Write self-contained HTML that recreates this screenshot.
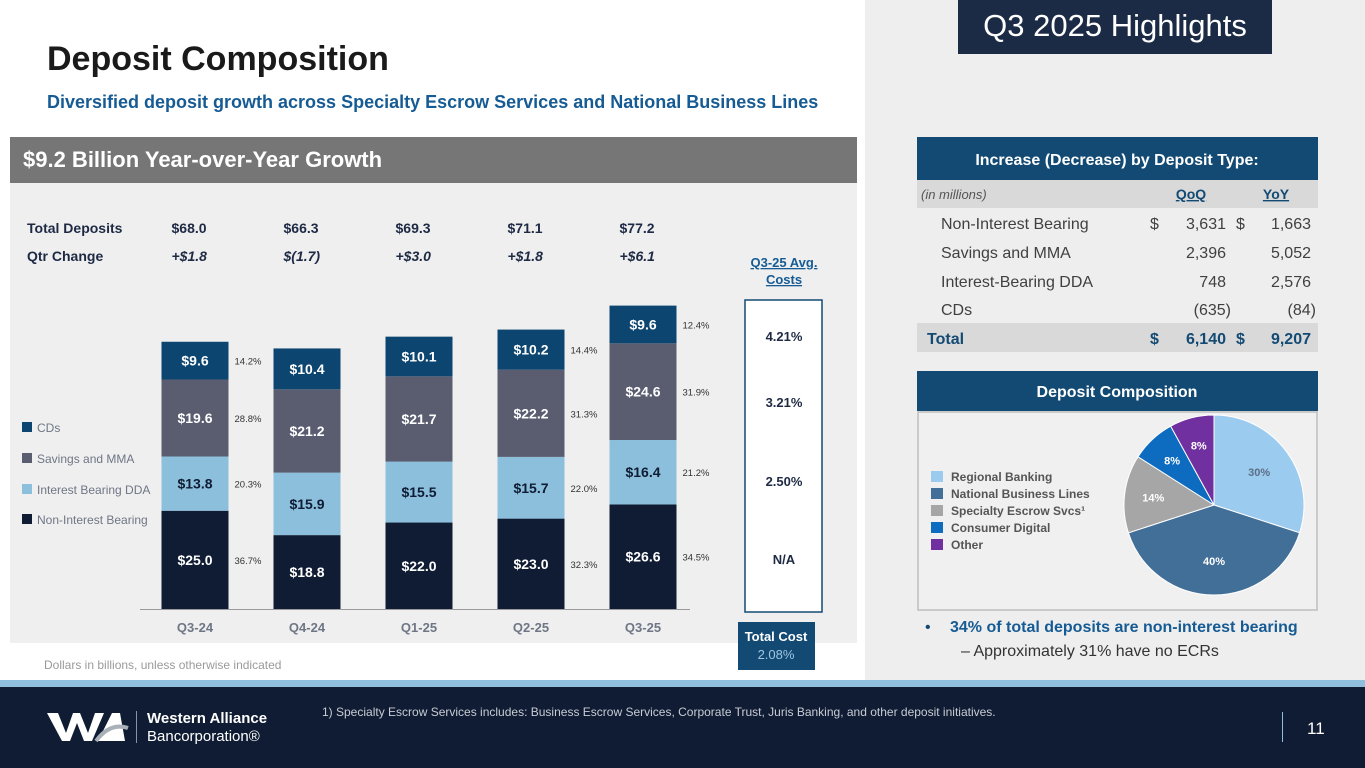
<!DOCTYPE html>
<html><head><meta charset="utf-8"><style>
html,body{margin:0;padding:0;width:1365px;height:768px;overflow:hidden;background:#fff}
svg{display:block;font-family:"Liberation Sans",sans-serif}
</style></head><body>
<svg id="s" width="1365" height="768" viewBox="0 0 1365 768" xmlns="http://www.w3.org/2000/svg">
<rect x="865" y="0" width="500" height="680" fill="#eeeeee"/>
<rect x="958" y="0" width="314" height="54" fill="#1b2a45"/>
<text x="1115" y="36" font-size="31" fill="#fff" text-anchor="middle">Q3 2025 Highlights</text>
<text x="47" y="70" font-size="34" font-weight="bold" fill="#1a1a1a">Deposit Composition</text>
<text x="47" y="108" font-size="18" font-weight="bold" fill="#165b94">Diversified deposit growth across Specialty Escrow Services and National Business Lines</text>

<rect x="10" y="137" width="847" height="506" fill="#efefef"/>
<rect x="10" y="137" width="847" height="46" fill="#767676"/>
<text x="23" y="167" font-size="22" font-weight="bold" fill="#fff">$9.2 Billion Year-over-Year Growth</text>
<text x="27" y="233" font-size="14" font-weight="bold" fill="#1e2a44">Total Deposits</text>
<text x="27" y="261" font-size="14" font-weight="bold" fill="#1e2a44">Qtr Change</text>
<g id="chart"></g>
<g>
<rect x="22" y="422" width="10" height="10" fill="#0c4670"/>
<text x="37" y="432" font-size="12" fill="#6e7685">CDs</text>
<rect x="22" y="453" width="10" height="10" fill="#5a5d70"/>
<text x="37" y="463" font-size="12" fill="#6e7685">Savings and MMA</text>
<rect x="22" y="484" width="10" height="10" fill="#8bbfdc"/>
<text x="37" y="494" font-size="12" fill="#6e7685">Interest Bearing DDA</text>
<rect x="22" y="514" width="10" height="10" fill="#0f1c33"/>
<text x="37" y="524" font-size="12" fill="#6e7685">Non-Interest Bearing</text>
</g>
<text x="784" y="267" font-size="13" font-weight="bold" fill="#165b94" text-anchor="middle" text-decoration="underline">Q3-25 Avg.</text>
<text x="784" y="284" font-size="13" font-weight="bold" fill="#165b94" text-anchor="middle" text-decoration="underline">Costs</text>
<rect x="745" y="300" width="77" height="312" fill="#fff" stroke="#134a73" stroke-width="1.5"/>
<g font-size="13" font-weight="bold" fill="#1e2a44" text-anchor="middle">
<text x="784" y="341">4.21%</text>
<text x="784" y="407">3.21%</text>
<text x="784" y="486">2.50%</text>
<text x="784" y="564">N/A</text>
</g>
<rect x="738" y="622" width="77" height="48" fill="#134a73"/>
<text x="776" y="641" font-size="13" font-weight="bold" fill="#fff" text-anchor="middle">Total Cost</text>
<text x="776" y="659" font-size="13" fill="#9fc6e3" text-anchor="middle">2.08%</text>
<text x="44" y="669" font-size="12" fill="#9a9a9a">Dollars in billions, unless otherwise indicated</text>

<rect x="917" y="137" width="401" height="43" fill="#134a73"/>
<text x="1117" y="165" font-size="16" font-weight="bold" fill="#fff" text-anchor="middle">Increase (Decrease) by Deposit Type:</text>
<rect x="917" y="180" width="401" height="28" fill="#d9d9d9"/>
<text x="921" y="199" font-size="13" font-style="italic" fill="#555">(in millions)</text>
<text x="1191" y="199" font-size="14" font-weight="bold" fill="#134a73" text-anchor="middle" text-decoration="underline">QoQ</text>
<text x="1276" y="199" font-size="14" font-weight="bold" fill="#134a73" text-anchor="middle" text-decoration="underline">YoY</text>
<g font-size="16" fill="#404040">
<text x="941" y="229">Non-Interest Bearing</text>
<text x="1150" y="229">$</text><text x="1226" y="229" text-anchor="end">3,631</text><text x="1236" y="229">$</text><text x="1311" y="229" text-anchor="end">1,663</text>
<text x="941" y="258">Savings and MMA</text>
<text x="1226" y="258" text-anchor="end">2,396</text><text x="1311" y="258" text-anchor="end">5,052</text>
<text x="941" y="287">Interest-Bearing DDA</text>
<text x="1226" y="287" text-anchor="end">748</text><text x="1311" y="287" text-anchor="end">2,576</text>
<text x="941" y="315">CDs</text>
<text x="1231" y="315" text-anchor="end">(635)</text><text x="1316" y="315" text-anchor="end">(84)</text>
</g>
<rect x="917" y="323" width="401" height="29" fill="#d9d9d9"/>
<g font-size="16" font-weight="bold" fill="#134a73">
<text x="927" y="344">Total</text>
<text x="1150" y="344">$</text><text x="1226" y="344" text-anchor="end">6,140</text><text x="1236" y="344">$</text><text x="1311" y="344" text-anchor="end">9,207</text>
</g>

<rect x="917" y="371" width="401" height="40" fill="#134a73"/>
<text x="1117" y="397" font-size="16" font-weight="bold" fill="#fff" text-anchor="middle">Deposit Composition</text>
<rect x="918" y="412" width="399" height="198" fill="#f0f0f0" stroke="#bdbdbd" stroke-width="1.5"/>
<g id="pie"></g>
<g font-size="12" font-weight="bold" fill="#555">
<rect x="931" y="471" width="12" height="11" fill="#9ccbf0"/><text x="951" y="481">Regional Banking</text>
<rect x="931" y="488" width="12" height="11" fill="#426f98"/><text x="951" y="498">National Business Lines</text>
<rect x="931" y="505" width="12" height="11" fill="#a6a6a6"/><text x="951" y="515">Specialty Escrow Svcs¹</text>
<rect x="931" y="522" width="12" height="11" fill="#0d6cc0"/><text x="951" y="532">Consumer Digital</text>
<rect x="931" y="539" width="12" height="11" fill="#7030a0"/><text x="951" y="549">Other</text>
</g>
<text x="925" y="632" font-size="16" fill="#134a73">•</text>
<text x="950" y="632" font-size="16" font-weight="bold" fill="#165b94">34% of total deposits are non-interest bearing</text>
<text x="961" y="656" font-size="16" fill="#333">–    Approximately 31% have no ECRs</text>

<rect x="0" y="680" width="1365" height="7" fill="#8fbfdc"/>
<rect x="0" y="687" width="1365" height="81" fill="#101c33"/>
<g>
<polygon points="47,713 58,713 66,733 73,713 80,713 88,733 95,713 104,713 92,741 84,741 77,723 70,741 62,741" fill="#fff"/>
<polygon points="98,741 112,713 120,713 125,741 116,741" fill="#fff"/>
<path d="M96 741 Q110 722 128 728" stroke="#aab0b8" stroke-width="4" fill="none"/>
<rect x="136" y="711" width="1" height="32" fill="#8a93a3"/>
<text x="147" y="723" font-size="15" font-weight="bold" fill="#fff">Western Alliance</text>
<text x="147" y="741" font-size="15" fill="#fff">Bancorporation®</text>
</g>
<text x="322" y="716" font-size="12" fill="#c8ccd4">1)    Specialty Escrow Services includes:  Business Escrow Services, Corporate Trust, Juris Banking, and other deposit initiatives.</text>
<rect x="1282" y="712" width="1" height="30" fill="#8fbfdc"/>
<text x="1307" y="734" font-size="17" fill="#fff">11</text>
</svg>
<script>
const quarters=["Q3-24","Q4-24","Q1-25","Q2-25","Q3-25"];
const nib=[25.0,18.8,22.0,23.0,26.6];
const ibdda=[13.8,15.9,15.5,15.7,16.4];
const savings=[19.6,21.2,21.7,22.2,24.6];
const cds=[9.6,10.4,10.1,10.2,9.6];
const totals=["$68.0","$66.3","$69.3","$71.1","$77.2"];
const changes=["+$1.8","$(1.7)","+$3.0","+$1.8","+$6.1"];
const pctNib=["36.7%","","","32.3%","34.5%"];
const pctIb=["20.3%","","","22.0%","21.2%"];
const pctSav=["28.8%","","","31.3%","31.9%"];
const pctCd=["14.2%","","","14.4%","12.4%"];
const pieLabels=["Regional Banking","National Business Lines","Specialty Escrow Svcs","Consumer Digital","Other"];
const pieValues=[30,40,14,8,8];

const NS="http://www.w3.org/2000/svg";
function mk(t,a,p){const e=document.createElementNS(NS,t);for(const k in a)e.setAttribute(k,a[k]);p.appendChild(e);return e;}
const g=document.getElementById('chart');
const base=609,scale=3.93,bw=67;
const xC=i=>195+i*112;
const yS=v=>base-v*scale;
mk('line',{x1:140,y1:base+0.5,x2:690,y2:base+0.5,stroke:'#9a9a9a','stroke-width':1},g);
const series=[[nib,'#0f1c33','#fff',pctNib,'nib'],[ibdda,'#8bbfdc','#0f1c33',pctIb,'ibdda'],[savings,'#5a5d70','#fff',pctSav,'savings'],[cds,'#0c4670','#fff',pctCd,'cds']];
quarters.forEach((q,i)=>{
  let acc=0;const x=xC(i)-bw/2;
  series.forEach(([arr,col,tc,pct,nm])=>{
    const v=arr[i];const y0=yS(acc),y1=yS(acc+v);
    const r=mk('rect',{x:x,y:y1,width:bw,height:y0-y1,fill:col},g);
    
    
    const t=mk('text',{x:xC(i),y:(y0+y1)/2+5,'font-size':14,'font-weight':'bold',fill:tc,'text-anchor':'middle'},g);
    t.textContent='$'+v.toFixed(1);
    
    
    if(pct[i]){const p=mk('text',{x:x+bw+6,y:(y0+y1)/2+4,'font-size':9.5,fill:'#333'},g);p.textContent=pct[i];
      
      }
    acc+=v;
  });
  const l=mk('text',{x:xC(i),y:632,'font-size':13,'font-weight':'bold',fill:'#6e7685','text-anchor':'middle'},g);l.textContent=q;
  
  
  const tt=mk('text',{x:x+10,y:233,'font-size':14,'font-weight':'bold',fill:'#1e2a44'},g);tt.textContent=totals[i];
  
  
  const cc=mk('text',{x:x+10,y:261,'font-size':14,'font-weight':'bold','font-style':'italic',fill:'#1e2a44'},g);cc.textContent=changes[i];
  
  
});
const pg=document.getElementById('pie');
const cx=1214,cy=505,R=90;const pcols=['#9ccbf0','#426f98','#a6a6a6','#0d6cc0','#7030a0'];
const tot=pieValues.reduce((a,b)=>a+b,0);let a0=-Math.PI/2;
pieValues.forEach((v,i)=>{
  const a1=a0+v/tot*2*Math.PI;
  const p=mk('path',{d:`M${cx},${cy} L${cx+R*Math.cos(a0)},${cy+R*Math.sin(a0)} A${R},${R} 0 ${a1-a0>Math.PI?1:0} 1 ${cx+R*Math.cos(a1)},${cy+R*Math.sin(a1)} Z`,fill:pcols[i],stroke:'#fff','stroke-width':1},pg);
  
  
  const am=(a0+a1)/2,rr=i<2?0.62:0.68;
  const t=mk('text',{x:cx+R*rr*Math.cos(am),y:cy+R*rr*Math.sin(am)+4,'font-size':11,'font-weight':'bold',fill:i==0?'#5b6e86':'#fff','text-anchor':'middle'},pg);
  t.textContent=v+'%';
  
  
  a0=a1;
});
</script>
</body></html>
